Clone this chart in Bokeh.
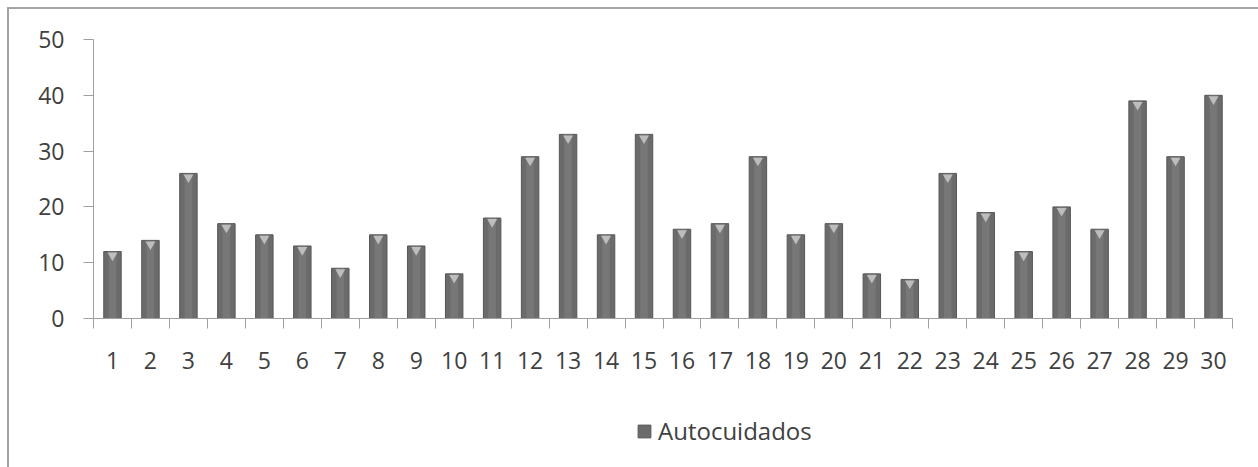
from bokeh.plotting import figure
from bokeh.layouts import column
from bokeh.models import (Range1d, FixedTicker, Legend, LegendItem, ColumnDataSource)
from bokeh.transform import dodge
from bokeh.embed import file_html
from bokeh.resources import INLINE

categories = list(range(1, 31))
values = [12, 14, 26, 17, 15, 13, 9, 15, 13, 8, 18, 29, 33, 15, 33,
          16, 17, 29, 15, 17, 8, 7, 26, 19, 12, 20, 16, 39, 29, 40]
y_ticks = [0, 10, 20, 30, 40, 50]
series_name = "Autocuidados"

BAR_FILL = "#6b6b6b"
BAR_LINE = "#575757"
TEXT = "#404040"
AXIS = "#a0a0a0"

src = ColumnDataSource(dict(x=categories, v=values))

p = figure(width=1250, height=385, output_backend="svg", toolbar_location=None,
           x_range=Range1d(0.5, len(categories) + 0.5), y_range=Range1d(0, 50),
           min_border_left=84, min_border_right=27, min_border_top=30, min_border_bottom=76)
p.outline_line_color = None
p.xgrid.visible = False
p.ygrid.visible = False

bars = p.vbar(x="x", top="v", width=0.46, source=src, fill_color=BAR_FILL,
              line_color=BAR_LINE, line_width=1)
p.vbar(x="x", top="v", width=0.2, source=src, fill_color="#7c7c7c", line_color=None,
       fill_alpha=0.7)
p.scatter(x="x", y=dodge("v", -0.7, range=p.y_range), source=src,
          marker="inverted_triangle", size=10, fill_color="#bdbdbd", line_color=None)

# y axis
ya = p.yaxis[0]
ya.ticker = FixedTicker(ticks=y_ticks, minor_ticks=[])
ya.axis_line_color = AXIS
ya.major_tick_line_color = AXIS
ya.major_tick_out = 10
ya.major_tick_in = 0
ya.minor_tick_line_color = None
ya.major_label_text_font = "Open Sans"
ya.major_label_text_font_size = "23px"
ya.major_label_text_color = TEXT
ya.major_label_standoff = 19

# x axis
xa = p.xaxis[0]
xa.ticker = FixedTicker(ticks=categories,
                        minor_ticks=[c - 0.5 for c in categories] + [categories[-1] + 0.5])
xa.axis_line_color = AXIS
xa.major_tick_line_color = None
xa.major_tick_out = 0
xa.major_tick_in = 0
xa.minor_tick_line_color = AXIS
xa.minor_tick_out = 10
xa.minor_tick_in = 0
xa.major_label_text_font = "Open Sans"
xa.major_label_text_font_size = "23px"
xa.major_label_text_color = TEXT
xa.major_label_standoff = 23

# legend strip
pl = figure(width=1250, height=74, output_backend="svg", toolbar_location=None,
            x_range=Range1d(0, 1), y_range=Range1d(0, 1),
            min_border_left=0, min_border_right=0, min_border_top=0, min_border_bottom=0)
pl.outline_line_color = None
pl.axis.visible = False
pl.grid.visible = False
legend_src = ColumnDataSource(dict(x=[-10], top=[-10]))
dummy = pl.vbar(x="x", top="top", width=0.46, source=legend_src,
                fill_color=BAR_FILL, line_color=BAR_LINE)
legend = Legend(items=[LegendItem(label=series_name, renderers=[dummy])],
                location=(543, 21), orientation="horizontal",
                border_line_alpha=0, background_fill_alpha=0,
                glyph_width=16, glyph_height=16,
                label_text_font="Open Sans", label_text_font_size="24px",
                label_text_color=TEXT, margin=0, padding=0, label_standoff=6)
pl.add_layout(legend)

layout = column(p, pl, spacing=0, margin=(7, 0, 0, 7),
                styles={"border-top": "2px solid #a3a3a3", "border-left": "2px solid #a3a3a3",
                        "background": "white"})

open("out.html", "w").write(file_html(layout, INLINE))
